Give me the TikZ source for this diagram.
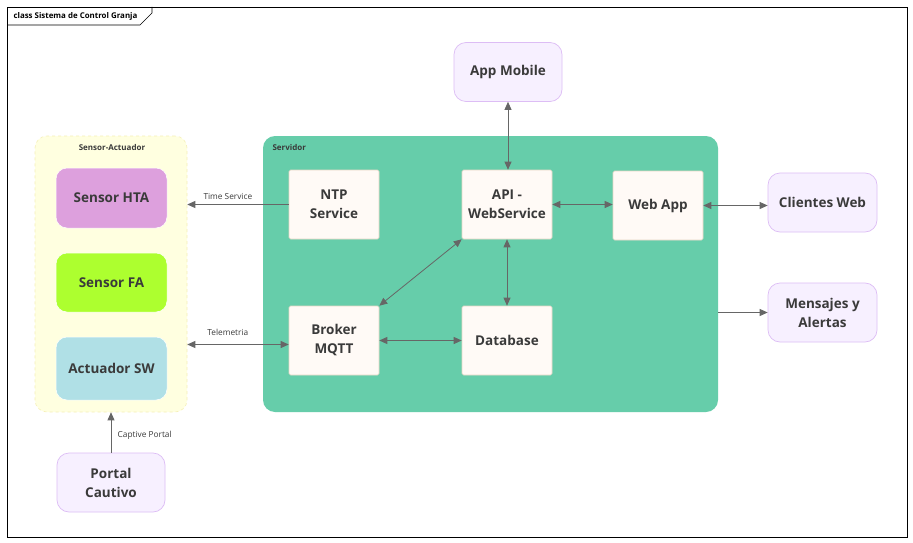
\documentclass[tikz,border=0pt]{standalone}
\usepackage{fontspec}
\setmainfont{Open Sans}
\usetikzlibrary{arrows.meta,positioning}

\definecolor{txt}{HTML}{3A3A3A}
\definecolor{arr}{HTML}{666666}
\definecolor{saFill}{HTML}{FFFFE0}
\definecolor{saLine}{HTML}{F5F0B8}
\definecolor{srvFill}{HTML}{66CDAA}
\definecolor{compFill}{HTML}{FFFAF6}
\definecolor{compLine}{HTML}{E6D6C4}
\definecolor{extFill}{HTML}{F7F0FF}
\definecolor{extLine}{HTML}{DDBDF5}
\definecolor{htaFill}{HTML}{DDA0DD}
\definecolor{faFill}{HTML}{ADFF2F}
\definecolor{swFill}{HTML}{B0E0E6}

\begin{document}
\begin{tikzpicture}[x=1pt,y=-1pt,
  every node/.style={font=\fontsize{13.5}{19}\selectfont\bfseries,text=txt,align=center},
  comp/.style={draw=compLine,fill=compFill,line width=0.6pt,rounded corners=1.5pt,minimum width=90pt,minimum height=69pt},
  ext/.style={draw=extLine,fill=extFill,line width=0.7pt,rounded corners=12pt,minimum width=108pt,minimum height=59pt},
  dev/.style={draw=white,line width=0.5pt,rounded corners=11pt,minimum width=111pt},
  lbl/.style={font=\fontsize{8.3}{10}\selectfont,text=txt},
  tip/.tip={Triangle[length=8pt,width=7pt]},
  link/.style={draw=arr,line width=0.8pt,-tip},
  both/.style={draw=arr,line width=0.8pt,tip-tip}]
  \useasboundingbox (0,0) rectangle (913,543);
  \fill[white] (0,0) rectangle (913,543);

  % marco
  \draw[line width=0.6pt] (7,7) rectangle (907,537);
  \draw[line width=0.6pt] (7,25) -- (140,25) -- (152,13) -- (152,7);
  \node[anchor=west,font=\fontsize{7.9}{9}\selectfont\bfseries,text=black] (frm) at (10,16) {class Sistema de Control Granja};

  % contenedores
  \node[fill=saFill,draw=saLine,dashed,line width=0.6pt,rounded corners=12pt,minimum width=152pt,minimum height=276pt] (sa) at (111,274) {};
  \node[font=\fontsize{8}{9}\selectfont\bfseries] (saT) at (112,147) {Sensor-Actuador};
  \node[fill=srvFill,rounded corners=12pt,minimum width=455pt,minimum height=276pt] (srv) at (490.5,274) {};
  \node[anchor=west,font=\fontsize{8}{9}\selectfont\bfseries] (srvT) at (269,147) {Servidor};

  % dispositivos
  \node[dev,fill=htaFill,minimum height=60pt] (hta) at (111.5,198) {Sensor HTA};
  \node[dev,fill=faFill,minimum height=59pt] (fa) at (111.5,282.5) {Sensor FA};
  \node[dev,fill=swFill,minimum height=63pt] (sw) at (111.5,368.5) {Actuador SW};

  % componentes del servidor
  \node[comp] (ntp) at (334,204.5) {NTP\\Service};
  \node[comp] (api) at (507,204.5) {API -\\WebService};
  \node[comp] (web) at (658,205.5) {Web App};
  \node[comp] (brk) at (334,340.5) {Broker\\MQTT};
  \node[comp] (db) at (507,340.5) {Database};

  % externos
  \node[ext] (app) at (508,72) {App Mobile};
  \node[ext,minimum width=109pt] (cw) at (822.5,202.5) {Clientes Web};
  \node[ext,minimum width=109pt] (msg) at (822.5,312.5) {Mensajes y\\Alertas};
  \node[ext] (portal) at (111,482.5) {Portal\\Cautivo};

  % conexiones
  \draw[both] (app.south) -- (app.south |- api.north);
  \draw[link] (ntp.west) -- (ntp.west -| sa.east) node[lbl,pos=0.6,above=1pt] {Time Service};
  \draw[both] ([yshift=-4pt]brk.west) -- ([yshift=-4pt]brk.west -| sa.east) node[lbl,pos=0.6,above=5pt] {Telemetria};
  \draw[both] (api.east) -- (api.east -| web.west);
  \draw[both] (web.east) -- (web.east -| cw.west);
  \draw[both] (brk.north east) -- (api.south west);
  \draw[both] (api.south) -- (api.south |- db.north);
  \draw[both] (brk.east) -- (db.west);
  \draw[link] (srv.east |- msg.west) -- (msg.west);
  \draw[link] (portal.north) -- (portal.north |- sa.south) node[lbl,midway,right=3pt,yshift=-3pt] {Captive Portal};
\end{tikzpicture}
\end{document}
